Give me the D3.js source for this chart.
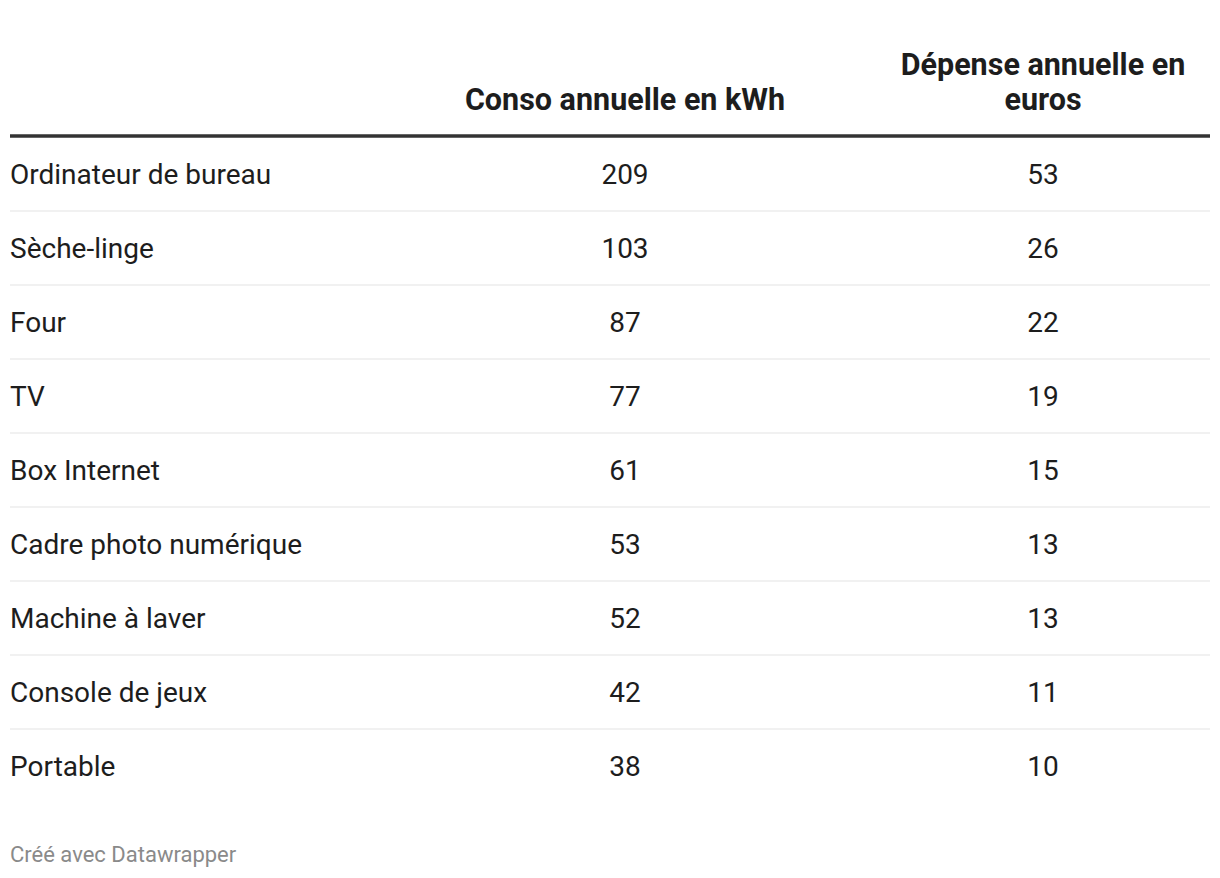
<!DOCTYPE html>
<html><head><meta charset="utf-8">
<script src="https://cdn.jsdelivr.net/npm/d3@7"></script>
<style>
body{margin:0;background:#fff;}
svg{display:block;font-family:Roboto,"Noto Sans",sans-serif;}
</style></head>
<body><svg id="chart" width="1220" height="878"></svg>
<script>
const categories = ["Ordinateur de bureau","Sèche-linge","Four","TV","Box Internet","Cadre photo numérique","Machine à laver","Console de jeux","Portable"];
const consoKwh = [209,103,87,77,61,53,52,42,38];
const depenseEuros = [53,26,22,19,15,13,13,11,10];
const columnHeaders = ["", "Conso annuelle en kWh", "Dépense annuelle en euros"];
const footerText = "Créé avec Datawrapper";

const svg = d3.select("#chart");
const left = 10, right = 1210;
const headerBottom = 136, rowH = 74;
const bodySize = 28, headSize = 30.5;
const headerMaxW = [0, 440, 320];

const x = d3.scaleOrdinal().domain([0,1,2]).range([left, 625, 1043]);
const y = d3.scaleBand().domain(categories).range([headerBottom+1, headerBottom+1+rowH*categories.length]).padding(0);

// header texts
const hdr = svg.append("g");
columnHeaders.forEach((h,i)=>{
  if(!h) return;
  const t = hdr.append("text").attr("x", x(i)).attr("text-anchor","middle")
    .attr("font-size",headSize).attr("font-weight",700).attr("fill","#1d1d1d");
  const words = h.split(" "); const maxW = headerMaxW[i]; let lines=[]; let cur=[];
  const tmp = t.append("tspan");
  words.forEach(w=>{
    cur.push(w); tmp.text(cur.join(" "));
    if(tmp.node().getComputedTextLength()>maxW && cur.length>1){cur.pop(); lines.push(cur.join(" ")); cur=[w];}
  });
  lines.push(cur.join(" ")); tmp.remove();
  const lh = 35, baseY = 110;
  lines.forEach((l,k)=>{
    t.append("tspan").attr("x",x(i)).attr("y", baseY - (lines.length-1-k)*lh).text(l);
  });
});

// header rule
svg.append("line").attr("x1",left).attr("x2",right).attr("y1",headerBottom).attr("y2",headerBottom)
  .attr("stroke","#333").attr("stroke-width",3.5);

// row separators
svg.append("g").selectAll("line").data(categories.slice(0,-1)).join("line")
  .attr("x1",left).attr("x2",right)
  .attr("y1",d=>y(d)+y.bandwidth()).attr("y2",d=>y(d)+y.bandwidth())
  .attr("stroke","#ececec").attr("stroke-width",1.5);

const rows = svg.append("g").selectAll("g").data(categories).join("g")
  .attr("transform",d=>`translate(0,${y(d)+y.bandwidth()/2})`);
rows.append("text").attr("x",x(0)).attr("dy","0.35em").attr("font-size",bodySize).attr("fill","#1d1d1d").text(d=>d);
rows.append("text").attr("x",x(1)).attr("text-anchor","middle").attr("dy","0.35em").attr("font-size",bodySize).attr("fill","#1d1d1d")
  .text((d,i)=>consoKwh[i]);
rows.append("text").attr("x",x(2)).attr("text-anchor","middle").attr("dy","0.35em").attr("font-size",bodySize).attr("fill","#1d1d1d")
  .text((d,i)=>depenseEuros[i]);

svg.append("text").attr("x",left).attr("y",862).attr("font-size",22).attr("fill","#8a8a8a").text(footerText);
</script></body></html>
